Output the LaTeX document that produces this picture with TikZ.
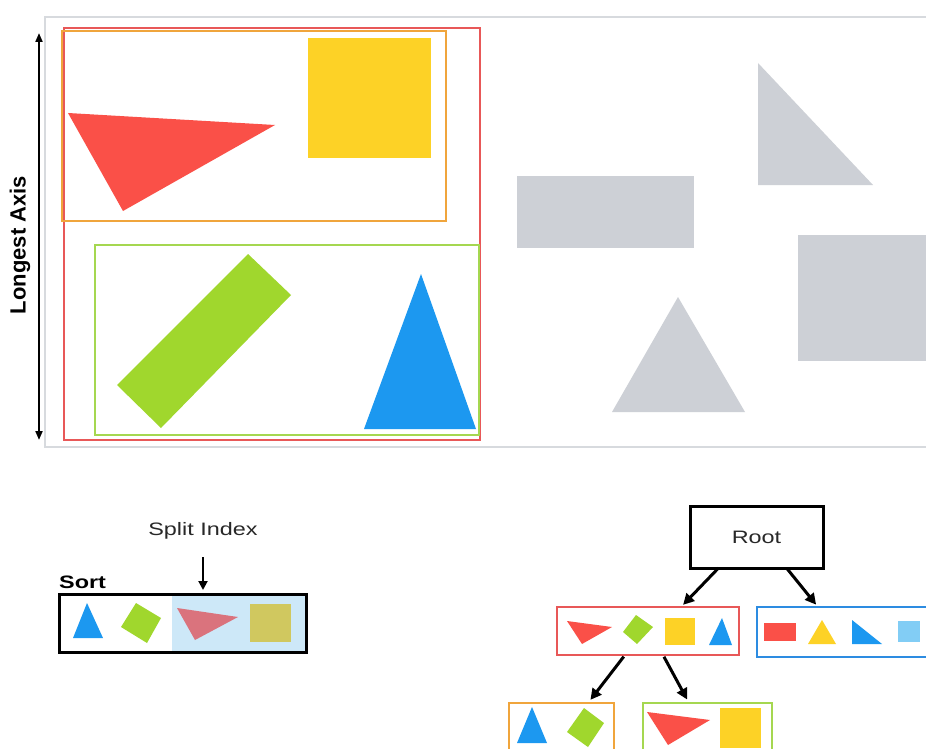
\documentclass[tikz,border=0pt]{standalone}
\usepackage{fontspec}
\setmainfont{Liberation Sans}
\usetikzlibrary{arrows.meta,calc}
\definecolor{redS}{RGB}{250,80,72}
\definecolor{yelS}{RGB}{253,210,38}
\definecolor{grnS}{RGB}{160,215,45}
\definecolor{bluS}{RGB}{28,152,240}
\definecolor{gryS}{RGB}{205,208,214}
\definecolor{frameG}{RGB}{215,218,222}
\definecolor{redB}{RGB}{232,88,88}
\definecolor{oraB}{RGB}{240,165,60}
\definecolor{grnB}{RGB}{165,215,80}
\definecolor{bluB}{RGB}{45,140,225}
\definecolor{lightReg}{RGB}{205,232,248}
\definecolor{pinkS}{RGB}{218,115,125}
\definecolor{oliveS}{RGB}{208,200,95}
\definecolor{ltbluS}{RGB}{130,205,245}
\definecolor{txtG}{RGB}{40,40,40}
\begin{document}
\begin{tikzpicture}[x=1pt,y=-1pt,
  box/.style={draw,rectangle,inner sep=0pt,outer sep=0pt},
  arr/.style={-{Triangle[length=11pt,width=11pt]},line width=3pt,black},
  lbl/.style={font=\fontsize{18}{20}\selectfont,text=txtG,inner sep=0pt}]
\clip (0,0) rectangle (926,749);
\fill[white] (0,0) rectangle (926,749);

% ---- top panel ----
\node[box,draw=frameG,line width=2.2pt,minimum width=895pt,minimum height=430pt] (frame) at (492.5,232) {};

% grey shapes
\fill[gryS] (517,176) rectangle (694,248);
\fill[gryS] (758,63) -- (758,185) -- (873,185) -- cycle;
\fill[gryS] (798,235) rectangle (940,361);
\fill[gryS] (678,297) -- (612,412) -- (745,412) -- cycle;

% coloured shapes
\fill[redS] (68,113) -- (275,125) -- (123,211) -- cycle;
\fill[yelS] (308,38) rectangle (431,158);
\fill[grnS] (248,254) -- (291,295) -- (161,428) -- (117,385) -- cycle;
\fill[bluS] (421,274) -- (364,429) -- (476,429) -- cycle;

% bounding boxes
\node[box,draw=redB,line width=2.5pt,minimum width=416pt,minimum height=412pt] (bigred) at (272,234) {};
\node[box,draw=oraB,line width=2.5pt,minimum width=384pt,minimum height=190pt] (bigora) at (254,126) {};
\node[box,draw=grnB,line width=2.5pt,minimum width=384pt,minimum height=190pt] (biggrn) at (287,340) {};

% longest axis
\coordinate (axtop) at (39,33);
\coordinate (axbot) at (39,440);
\draw[{Triangle[length=9pt,width=7pt]}-{Triangle[length=9pt,width=7pt]},line width=2pt] (axtop) -- (axbot);
\node[rotate=90,font=\bfseries\fontsize{22}{24}\selectfont,inner sep=0pt] (axlabel) at (20,245) {Longest Axis};

% ---- sort row ----
\fill[lightReg] (172,594) rectangle (306,652);
\fill[bluS] (87,603) -- (73,638) -- (103,638) -- cycle;
\fill[grnS] (136,603) -- (161,618) -- (147,643) -- (121,627) -- cycle;
\fill[pinkS] (177,608) -- (238,617) -- (195,640) -- cycle;
\fill[oliveS] (250,604) rectangle (291,642);
\node[box,line width=3pt,minimum width=247pt,minimum height=58pt] (sortbox) at (182.5,623) {};
\node[font=\bfseries\fontsize{18}{20}\selectfont,inner sep=0pt,anchor=base west] (sortlbl) at (59,588) {\scalebox{1.3}[1]{Sort}};
\node[lbl,anchor=base] (split) at (203,535) {\scalebox{1.3}[1]{Split Index}};
\coordinate (splitstart) at (203,557);
\draw[-{Triangle[length=9pt,width=9pt]},line width=2pt,shorten >=4pt] (splitstart) -- ([xshift=20.5pt]sortbox.north);

% ---- tree ----
\node[box,line width=3pt,minimum width=133pt,minimum height=62pt,lbl] (root) at (756.5,537) {\scalebox{1.3}[1]{Root}};
\node[box,draw=redB,line width=2.6pt,minimum width=182pt,minimum height=48pt] (redbox) at (648,631) {};
\node[box,draw=bluB,line width=2.6pt,minimum width=188pt,minimum height=50pt] (bluebox) at (851,632) {};
\node[box,draw=oraB,line width=2.6pt,minimum width=105pt,minimum height=58pt] (orabox) at (561.5,732) {};
\node[box,draw=grnB,line width=2.6pt,minimum width=129pt,minimum height=58pt] (grnbox) at (707.5,732) {};

% red box contents
\fill[redS] (567,621) -- (612,627) -- (582,644) -- cycle;
\fill[grnS] (636,615) -- (653,627) -- (637,644) -- (623,632) -- cycle;
\fill[yelS] (665,618) rectangle (695,645);
\fill[bluS] (722,618) -- (709,645) -- (732,645) -- cycle;
% blue box contents
\fill[redS] (764,623) rectangle (796,641);
\fill[yelS] (822,620) -- (808,644) -- (836,644) -- cycle;
\fill[bluS] (852,620) -- (852,644) -- (882,644) -- cycle;
\fill[ltbluS] (898,621) rectangle (920,642);
% orange box contents
\fill[bluS] (532,707) -- (517,743) -- (547,743) -- cycle;
\fill[grnS] (584,708) -- (604,723) -- (588,747) -- (567,732) -- cycle;
% green box contents
\fill[redS] (647,712) -- (710,720) -- (668,745) -- cycle;
\fill[yelS] (720,708) rectangle (761,748);

% tree arrows
\draw[arr,shorten >=3pt] ([xshift=-38pt]root.south) -- ([xshift=33pt]redbox.north);
\draw[arr,shorten >=3pt] ([xshift=30pt]root.south) -- ([xshift=-33pt]bluebox.north);
\draw[arr,shorten <=2pt,shorten >=4pt] ([xshift=-23pt]redbox.south) -- ([xshift=26.5pt]orabox.north);
\draw[arr,shorten <=2pt,shorten >=4pt] ([xshift=15pt]redbox.south) -- ([xshift=-18.5pt]grnbox.north);
\end{tikzpicture}
\end{document}
